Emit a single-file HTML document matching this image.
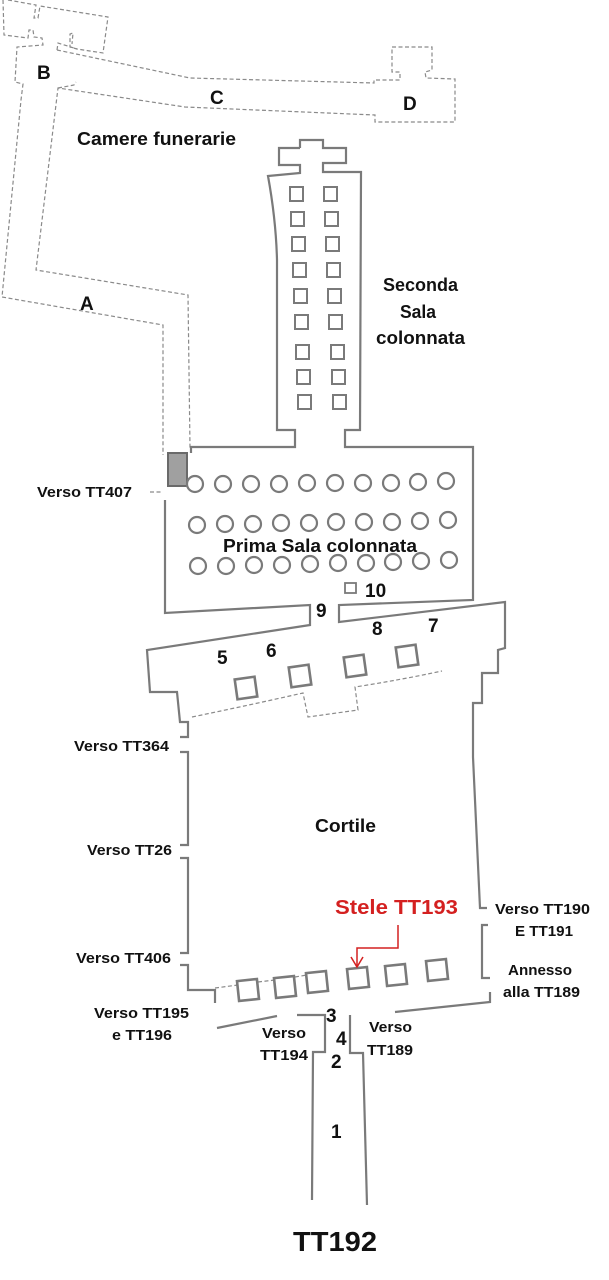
<!DOCTYPE html>
<html><head><meta charset="utf-8"><style>
html,body{margin:0;padding:0;background:#fff;}
svg{display:block;}
text{font-family:"Liberation Sans",sans-serif;font-weight:bold;fill:#111;}
</style></head><body>
<svg width="609" height="1280" viewBox="0 0 609 1280" xmlns="http://www.w3.org/2000/svg">
<g fill="none" stroke="#8a8a8a" stroke-width="1.2" stroke-dasharray="4,2.5">
<path d="M3,0 L4,35 L28,38 L29,30 L33,30 L34,37 L42,38 L43,45 L17,47 L15,82 L23,84 L21,100 L2,297 L163,325 L163,455"/>
<path d="M8,0 L36,5 L34,18 L38,18 L40,6 L108,17 L103,53 L77,49 L70,47 L70,34 L73,33 L72,44"/>
<path d="M57,50 L58,43 L77,49"/>
<path d="M57,50 L190,78 L374,83 L374,80 L400,80 L400,72 L392,72 L392,47 L432,47 L432,70 L425,72 L426,78 L455,79 L455,122 L375,122 L375,115 L185,107 L58,88 L36,270 L188,295 L190,448"/>
<path d="M58,88 L74,85 L76,82"/>
<path d="M150,492 L163,492"/>
<path d="M192,717 Q250,705 303,693 L308,717 L358,710 L355,687 Q400,680 442,671"/>
<path d="M215,988 L238,985 M258,982 L275,980 M295,977 L307,975"/>
</g>
<g fill="none" stroke="#7a7a7a" stroke-width="2.2">
<path d="M300,148 L300,140 L323,140 L323,148 L346,148 L346,163 L323,163 L323,172 L361,172 L360,430 L345,430 L345,447 L473,447 L473,600 L339,605 L339,622 L505,602 L505,648 L498,650 L498,673 L482,673 L482,703 L473,703 L473,757 L480,908 L487,908"/>
<path d="M300,148 L279,148 L279,165 L300,165 L300,173 L268,176 Q276,220 277,260 L277,430 L295,430 L295,447 L191,447 L191,453"/>
<path d="M165,500 L165,613 L310,605 L310,625 L147,650 L150,692 L177,692 L180,722 L188,722 L188,737 L180,737"/>
<path d="M180,752 L188,752 L188,845 L180,845"/>
<path d="M180,858 L188,858 L188,953 L180,953"/>
<path d="M180,965 L188,965 L188,990 L215,990 L215,1003"/>
<path d="M488,925 L482,925 L482,978 L490,978"/>
<path d="M490,992 L490,1002 L395,1012"/>
<path d="M217,1028 L277,1016"/>
<path d="M297,1015 L325,1015 L325,1052 L313,1052 L312,1200"/>
<path d="M350,1015 L350,1053 L363,1053 L367,1205"/>
</g>
<rect x="168" y="453" width="19" height="33" fill="#a0a0a0" stroke="#6a6a6a" stroke-width="2"/>
<g fill="none" stroke="#7a7a7a" stroke-width="2.2">
<circle cx="195" cy="484" r="8"/><circle cx="223" cy="484" r="8"/><circle cx="251" cy="484" r="8"/><circle cx="279" cy="484" r="8"/><circle cx="307" cy="483" r="8"/><circle cx="335" cy="483" r="8"/><circle cx="363" cy="483" r="8"/><circle cx="391" cy="483" r="8"/><circle cx="418" cy="482" r="8"/><circle cx="446" cy="481" r="8"/>
<circle cx="197" cy="525" r="8"/><circle cx="225" cy="524" r="8"/><circle cx="253" cy="524" r="8"/><circle cx="281" cy="523" r="8"/><circle cx="309" cy="523" r="8"/><circle cx="336" cy="522" r="8"/><circle cx="364" cy="522" r="8"/><circle cx="392" cy="522" r="8"/><circle cx="420" cy="521" r="8"/><circle cx="448" cy="520" r="8"/>
<circle cx="198" cy="566" r="8"/><circle cx="226" cy="566" r="8"/><circle cx="254" cy="565" r="8"/><circle cx="282" cy="565" r="8"/><circle cx="310" cy="564" r="8"/><circle cx="338" cy="563" r="8"/><circle cx="366" cy="563" r="8"/><circle cx="393" cy="562" r="8"/><circle cx="421" cy="561" r="8"/><circle cx="449" cy="560" r="8"/>
<rect x="345" y="583" width="11" height="10" stroke-width="1.8"/>
<g stroke-width="2">
<rect x="290" y="187" width="13" height="14"/><rect x="324" y="187" width="13" height="14"/>
<rect x="291" y="212" width="13" height="14"/><rect x="325" y="212" width="13" height="14"/>
<rect x="292" y="237" width="13" height="14"/><rect x="326" y="237" width="13" height="14"/>
<rect x="293" y="263" width="13" height="14"/><rect x="327" y="263" width="13" height="14"/>
<rect x="294" y="289" width="13" height="14"/><rect x="328" y="289" width="13" height="14"/>
<rect x="295" y="315" width="13" height="14"/><rect x="329" y="315" width="13" height="14"/>
<rect x="296" y="345" width="13" height="14"/><rect x="331" y="345" width="13" height="14"/>
<rect x="297" y="370" width="13" height="14"/><rect x="332" y="370" width="13" height="14"/>
<rect x="298" y="395" width="13" height="14"/><rect x="333" y="395" width="13" height="14"/>
</g>
<g stroke-width="2.6">
<rect x="236" y="678" width="20" height="20" transform="rotate(-8 246 688)"/>
<rect x="290" y="666" width="20" height="20" transform="rotate(-8 300 676)"/>
<rect x="345" y="656" width="20" height="20" transform="rotate(-8 355 666)"/>
<rect x="397" y="646" width="20" height="20" transform="rotate(-8 407 656)"/>
<rect x="238" y="980" width="20" height="20" transform="rotate(-6 248 990)"/>
<rect x="275" y="977" width="20" height="20" transform="rotate(-6 285 987)"/>
<rect x="307" y="972" width="20" height="20" transform="rotate(-6 317 982)"/>
<rect x="348" y="968" width="20" height="20" transform="rotate(-6 358 978)"/>
<rect x="386" y="965" width="20" height="20" transform="rotate(-6 396 975)"/>
<rect x="427" y="960" width="20" height="20" transform="rotate(-6 437 970)"/>
</g>
</g>
<g fill="none" stroke="#d42020" stroke-width="1.5">
<path d="M398,925 L398,948 L357,948 L357,966"/>
<path d="M351,957 L357,967 L363,957"/>
</g>
<text x="37" y="79" font-size="19">B</text>
<text x="210" y="104" font-size="19">C</text>
<text x="403" y="110" font-size="19">D</text>
<text x="77" y="145" font-size="18" textLength="159" lengthAdjust="spacingAndGlyphs">Camere funerarie</text>
<text x="80" y="310" font-size="19">A</text>
<text x="383" y="291" font-size="18" textLength="75" lengthAdjust="spacingAndGlyphs">Seconda</text>
<text x="400" y="318" font-size="18" textLength="36" lengthAdjust="spacingAndGlyphs">Sala</text>
<text x="376" y="344" font-size="18" textLength="89" lengthAdjust="spacingAndGlyphs">colonnata</text>
<text x="37" y="497" font-size="15" textLength="95" lengthAdjust="spacingAndGlyphs">Verso TT407</text>
<text x="223" y="552" font-size="18" textLength="194" lengthAdjust="spacingAndGlyphs">Prima Sala colonnata</text>
<text x="365" y="597" font-size="19">10</text>
<text x="316" y="617" font-size="19">9</text>
<text x="372" y="635" font-size="19">8</text>
<text x="428" y="632" font-size="19">7</text>
<text x="217" y="664" font-size="19">5</text>
<text x="266" y="657" font-size="19">6</text>
<text x="74" y="751" font-size="15" textLength="95" lengthAdjust="spacingAndGlyphs">Verso TT364</text>
<text x="315" y="832" font-size="18" textLength="61" lengthAdjust="spacingAndGlyphs">Cortile</text>
<text x="87" y="855" font-size="15" textLength="85" lengthAdjust="spacingAndGlyphs">Verso TT26</text>
<text x="335" y="914" font-size="20" textLength="123" lengthAdjust="spacingAndGlyphs" style="fill:#d42020">Stele TT193</text>
<text x="495" y="914" font-size="15" textLength="95" lengthAdjust="spacingAndGlyphs">Verso TT190</text>
<text x="515" y="936" font-size="15" textLength="58" lengthAdjust="spacingAndGlyphs">E TT191</text>
<text x="76" y="963" font-size="15" textLength="95" lengthAdjust="spacingAndGlyphs">Verso TT406</text>
<text x="508" y="975" font-size="15" textLength="64" lengthAdjust="spacingAndGlyphs">Annesso</text>
<text x="503" y="997" font-size="15" textLength="77" lengthAdjust="spacingAndGlyphs">alla TT189</text>
<text x="94" y="1018" font-size="15" textLength="95" lengthAdjust="spacingAndGlyphs">Verso TT195</text>
<text x="112" y="1040" font-size="15" textLength="60" lengthAdjust="spacingAndGlyphs">e TT196</text>
<text x="326" y="1022" font-size="19">3</text>
<text x="262" y="1038" font-size="15" textLength="44" lengthAdjust="spacingAndGlyphs">Verso</text>
<text x="260" y="1060" font-size="15" textLength="48" lengthAdjust="spacingAndGlyphs">TT194</text>
<text x="336" y="1045" font-size="19">4</text>
<text x="369" y="1032" font-size="15" textLength="43" lengthAdjust="spacingAndGlyphs">Verso</text>
<text x="367" y="1055" font-size="15" textLength="46" lengthAdjust="spacingAndGlyphs">TT189</text>
<text x="331" y="1068" font-size="19">2</text>
<text x="331" y="1138" font-size="19">1</text>
<text x="293" y="1251" font-size="28" textLength="84" lengthAdjust="spacingAndGlyphs">TT192</text>
</svg>
</body></html>
